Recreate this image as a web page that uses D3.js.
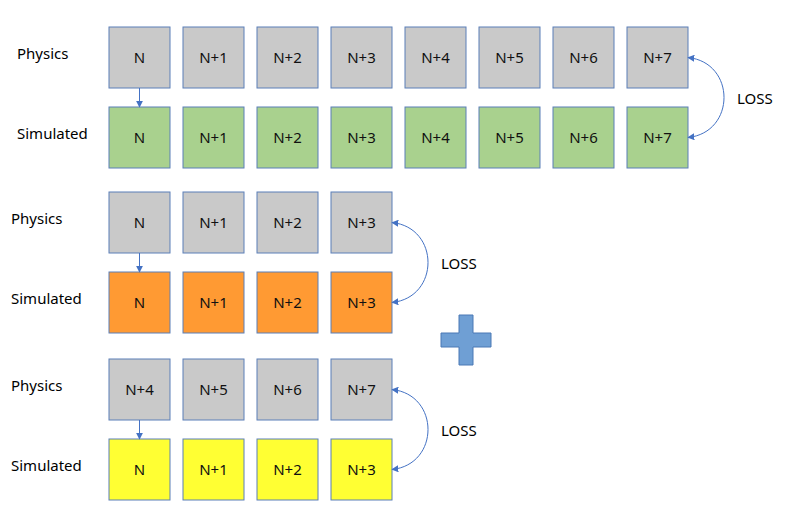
<!DOCTYPE html>
<html><head><meta charset="utf-8">
<script src="https://cdn.jsdelivr.net/npm/d3@7"></script>
<style>body{margin:0;background:#fff}svg{font-family:"Noto Sans",sans-serif}</style>
</head><body>
<svg id="c" width="790" height="520"></svg>
<script>
// diagram data
var topPhys = ["N", "N+1", "N+2", "N+3", "N+4", "N+5", "N+6", "N+7"];
var topSim = ["N", "N+1", "N+2", "N+3", "N+4", "N+5", "N+6", "N+7"];
var midPhys = ["N", "N+1", "N+2", "N+3"];
var midSim = ["N", "N+1", "N+2", "N+3"];
var lowPhys = ["N+4", "N+5", "N+6", "N+7"];
var lowSim = ["N", "N+1", "N+2", "N+3"];

var blocks = [
    {phys: topPhys, sim: topSim, y: 27, simColor: "#a9d18e", labelX: 17},
    {phys: midPhys, sim: midSim, y: 192, simColor: "#ff9a33", labelX: 11},
    {phys: lowPhys, sim: lowSim, y: 359, simColor: "#ffff33", labelX: 11}
];

var svg = d3.select("#c");
var size = 61, gap = 80;
var x = d3.scaleLinear().domain([0, 1]).range([109, 183]);
var blue = "#4472c4";

svg.append("defs").append("marker").attr("id", "ah")
    .attr("viewBox", "0 0 10 10").attr("refX", 9).attr("refY", 5)
    .attr("markerWidth", 7).attr("markerHeight", 7).attr("orient", "auto-start-reverse")
    .append("path").attr("d", "M0,0L10,5L0,10z").attr("fill", blue);

function row(g, data, y, fill) {
    var cell = g.selectAll(null).data(data).enter().append("g")
        .attr("transform", function(d, i) { return "translate(" + x(i) + "," + y + ")"; });
    cell.append("rect").attr("width", size).attr("height", size)
        .attr("fill", fill).attr("stroke", "#5b7fb8").attr("stroke-width", 1);
    cell.append("text").attr("x", size / 2).attr("y", size / 2 + 5)
        .attr("text-anchor", "middle").attr("font-size", 15).attr("fill", "#111")
        .text(function(d) { return d; });
}

blocks.forEach(function(b) {
    var g = svg.append("g");
    var ys = b.y + gap;
    row(g, b.phys, b.y, "#c9c9c9");
    row(g, b.sim, ys, b.simColor);
    g.append("text").attr("x", b.labelX).attr("y", b.y + 32).attr("font-size", 15).text("Physics");
    g.append("text").attr("x", b.labelX).attr("y", ys + 32).attr("font-size", 15).text("Simulated");
    // down arrow from first physics box
    var cx = x(0) + size / 2;
    g.append("line").attr("x1", cx).attr("y1", b.y + size).attr("x2", cx).attr("y2", ys)
        .attr("stroke", blue).attr("marker-end", "url(#ah)");
    // loss curve
    var rx = x(b.phys.length - 1) + size;
    var y1 = b.y + size / 2, y2 = ys + size / 2;
    g.append("path")
        .attr("d", "M" + rx + "," + y1 + " C" + (rx + 48) + "," + (y1 + 5) + " " + (rx + 48) + "," + (y2 - 5) + " " + rx + "," + y2)
        .attr("fill", "none").attr("stroke", blue).attr("stroke-width", 1)
        .attr("marker-start", "url(#ah)").attr("marker-end", "url(#ah)");
    g.append("text").attr("x", rx + 49).attr("y", (y1 + y2) / 2 + 6).attr("font-size", 15).text("LOSS");
});

// plus sign
var px = 466, py = 340, arm = 25, t = 7;
svg.append("path")
    .attr("d", "M" + (px - t) + "," + (py - arm) + "h" + 2 * t + "v" + (arm - t) + "h" + (arm - t) + "v" + 2 * t +
        "h" + (t - arm) + "v" + (arm - t) + "h" + (-2 * t) + "v" + (t - arm) + "h" + (t - arm) + "v" + (-2 * t) + "h" + (arm - t) + "z")
    .attr("fill", "#6f9fd4").attr("stroke", "#4a78b5").attr("stroke-width", 1);
</script>
</body></html>
